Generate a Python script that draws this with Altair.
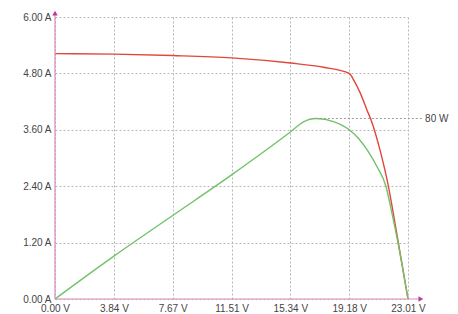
import altair as alt
import pandas as pd

# Current curve (I-V)
volt_i = [0.0, 3.84, 7.67, 11.51, 15.34, 17.5, 19.18, 19.5, 19.9, 20.3, 20.7, 21.2, 21.7, 22.3, 23.01]
current = [5.22, 5.21, 5.18, 5.13, 5.02, 4.93, 4.80, 4.64, 4.38, 4.05, 3.72, 3.15, 2.45, 1.35, 0.0]

# Power curve (P-V), watts
volt_p = [0.0, 3.84, 7.67, 11.51, 15.34, 16.2, 17.0, 18.2, 19.18, 19.8, 20.4, 21.0, 21.57, 21.95, 22.34, 23.01]
power = [0.0, 19.0, 37.0, 55.0, 74.0, 78.5, 80.0, 78.5, 75.0, 71.0, 65.5, 58.5, 50.0, 38.5, 25.5, 0.0]

x_ticks = [0.0, 3.84, 7.67, 11.51, 15.34, 19.18, 23.01]
y_ticks = [0.0, 1.2, 2.4, 3.6, 4.8, 6.0]
max_power = 80.0
max_power_v = 17.0
amps_per_watt = 3.84 / 80.0

df_i = pd.DataFrame({"v": volt_i, "i": current})
df_p = pd.DataFrame({"v": volt_p, "p": power})
df_p["i"] = df_p["p"] * amps_per_watt

FONT = "Liberation Sans"
AXIS_COL = "#d98cbc"
ARROW_COL = "#c0369a"

xs = alt.Scale(domain=[0, 23.01], nice=False, zero=False)
ys = alt.Scale(domain=[0, 6], nice=False)

base_x = alt.X("v:Q", scale=xs, title=None,
               axis=alt.Axis(values=x_ticks, labelExpr="format(datum.value, '.2f') + ' V'",
                             grid=True, gridColor="#b8b8b8", gridDash=[2, 2], gridWidth=1,
                             domain=False, ticks=False, labelPadding=4, labelFlush=False,
                             labelFont=FONT, labelFontSize=10, labelColor="#444444"))
base_y = alt.Y("i:Q", scale=ys, title=None,
               axis=alt.Axis(values=y_ticks, labelExpr="format(datum.value, '.2f') + ' A'",
                             grid=True, gridColor="#b8b8b8", gridDash=[2, 2], gridWidth=1,
                             domain=False, ticks=False, labelPadding=4, labelFlush=False,
                             labelFont=FONT, labelFontSize=10, labelColor="#444444"))

red = alt.Chart(df_i).mark_line(color="#e0473b", strokeWidth=1.4, interpolate="monotone").encode(
    x=base_x, y=base_y)
green = alt.Chart(df_p).mark_line(color="#72c26a", strokeWidth=1.4, interpolate="monotone").encode(
    x=alt.X("v:Q", scale=xs), y=alt.Y("i:Q", scale=ys))

# axes lines with arrows
ax_df = pd.DataFrame({"x0": [0.0, 0.0], "x1": [23.75, 0.0], "y0": [0.0, 0.0], "y1": [0.0, 6.08]})
axes = alt.Chart(ax_df).mark_rule(color=AXIS_COL, strokeWidth=1.2, clip=False).encode(
    x=alt.X("x0:Q", scale=xs), x2="x1:Q", y=alt.Y("y0:Q", scale=ys), y2="y1:Q")
arr_df = pd.DataFrame({"x": [23.85, 0.0], "y": [0.0, 6.08], "shape": ["triangle-right", "triangle-up"]})
arrows = alt.Chart(arr_df).mark_point(filled=True, size=30, color=ARROW_COL, opacity=1, clip=False).encode(
    x=alt.X("x:Q", scale=xs), y=alt.Y("y:Q", scale=ys),
    shape=alt.Shape("shape:N", scale=None))

# max power marker line + label
mp_df = pd.DataFrame({"x0": [max_power_v], "x1": [23.93], "y": [max_power * amps_per_watt],
                      "label": [f"{max_power:.0f} W"]})
mp_line = alt.Chart(mp_df).mark_rule(color="#9a9a9a", strokeDash=[2, 2], strokeWidth=1.2, clip=False).encode(
    x=alt.X("x0:Q", scale=xs), x2="x1:Q", y=alt.Y("y:Q", scale=ys))
mp_text = alt.Chart(mp_df).mark_text(align="left", baseline="middle", dx=3, font=FONT, fontSize=10,
                                     color="#444444", clip=False).encode(
    x=alt.X("x1:Q", scale=xs), y=alt.Y("y:Q", scale=ys), text="label:N")

chart = alt.layer(red, green, axes, arrows, mp_line, mp_text).properties(
    width=353, height=282,
    padding={"left": 47, "top": 9, "right": 42, "bottom": 20},
    autosize=alt.AutoSizeParams(type="none"),
    background="white",
).configure_view(stroke=None)

chart.save("out.html", embed_options={"renderer": "svg", "actions": False})
